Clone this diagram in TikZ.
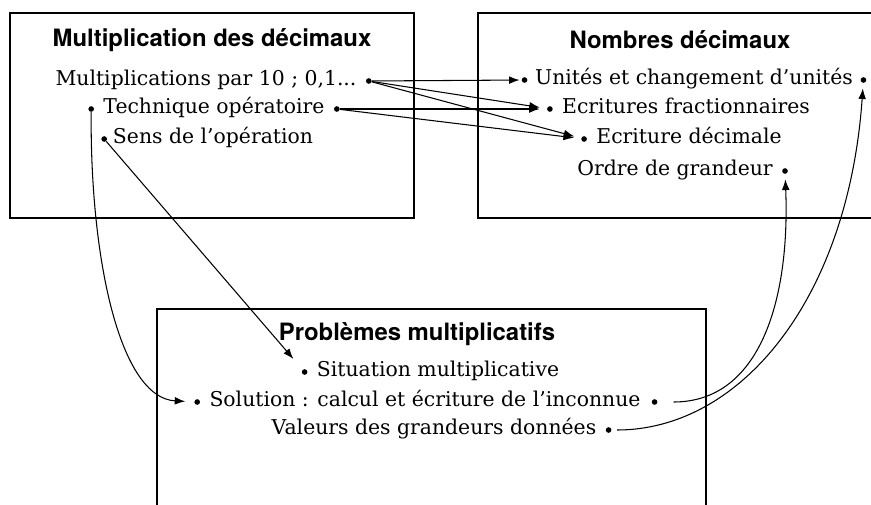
\documentclass[tikz,border=0pt]{standalone}
\usepackage{fontspec}
\setmainfont{DejaVu Serif}
\setsansfont{TeX Gyre Heros}
\usetikzlibrary{positioning,arrows.meta}
\tikzset{
	titre/.style={font=\sffamily\bfseries\fontsize{13.6}{15}\selectfont, inner sep=0pt},
	item/.style={font=\fontsize{11.6}{13}\selectfont, inner sep=0pt, text height=0.75em, text depth=0.25em},
	puce/.style={circle, fill, inner sep=0pt, minimum size=3.2pt},
	fleche/.style={-{Latex[length=6pt,width=4.4pt]}, line width=0.6pt},
	cadre/.style={line width=0.8pt}
}
\begin{document}
\begin{tikzpicture}[x=0.02cm,y=-0.02cm]
	\useasboundingbox (0,0) rectangle (871,504);
	\draw[cadre] (10,13) rectangle (414,218);
	\draw[cadre] (880,13) -- (478,13) -- (478,218) -- (880,218);
	\draw[cadre] (157,515) -- (157,309) -- (706,309) -- (706,515);
	\node[titre] (multi) at (212,40) {Multiplication des décimaux};
	\node[item] (mdix) at (206,81) {Multiplications par 10 ; 0,1...};
	\node[puce, right=5pt of mdix] (mdixR) {};
	\node[item] (tech) at (214,109) {Technique opératoire};
	\node[puce, left=5pt of tech] (techL) {};
	\node[puce, right=5pt of tech] (techR) {};
	\node[item] (sens) at (213,139) {Sens de l'opération};
	\node[puce, left=3pt of sens] (sensL) {};
	\node[titre] (nombres) at (680,40) {Nombres décimaux};
	\node[item] (unites) at (694,80) {Unités et changement d'unités};
	\node[puce, left=4pt of unites] (unitesL) {};
	\node[puce, right=4pt of unites] (unitesR) {};
	\node[item] (fract) at (686,109) {Ecritures fractionnaires};
	\node[puce, left=5pt of fract] (fractL) {};
	\node[item] (decim) at (689,139) {Ecriture décimale};
	\node[puce, left=5pt of decim] (decimL) {};
	\node[item] (ordre) at (675,171) {Ordre de grandeur};
	\node[puce, right=5pt of ordre] (ordreR) {};
	\node[titre] (problemes) at (417,334) {Problèmes multiplicatifs};
	\node[item] (situ) at (438,372) {Situation multiplicative};
	\node[puce, left=5pt of situ] (situL) {};
	\node[item] (sol) at (425,402) {Solution : calcul et écriture de l'inconnue};
	\node[puce, left=5pt of sol] (solL) {};
	\node[puce, right=6pt of sol] (solR) {};
	\node[item] (val) at (434,430) {Valeurs des grandeurs données};
	\node[puce, right=5pt of val] (valR) {};
	\draw[fleche,shorten >=1pt] (mdixR) -- (unitesL);
	\draw[fleche,shorten >=4pt] (mdixR) -- (fractL);
	\draw[fleche,shorten >=4pt] (mdixR) -- (decimL);
	\draw[fleche,shorten >=4pt] (techR) -- (fractL);
	\draw[fleche,shorten >=4pt] (techR) -- (decimL);
	\draw[fleche,shorten >=8pt] (sensL) -- (situL);
	\draw[fleche,shorten >=5pt] (techL) .. controls (90,260) and (120,398) .. (solL);
	\draw[fleche,shorten <=9pt,shorten >=3pt] (solR) .. controls (760,402) and (790,300) .. (ordreR);
	\draw[fleche,shorten <=3pt,shorten >=3pt] (valR) .. controls (740,430) and (848,300) .. (unitesR);
\end{tikzpicture}
\end{document}
